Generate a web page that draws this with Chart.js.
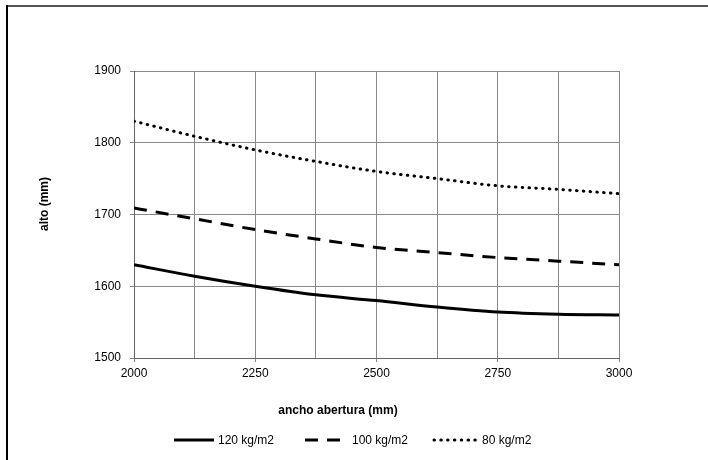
<!DOCTYPE html>
<html>
<head>
<meta charset="utf-8">
<script src="https://cdn.jsdelivr.net/npm/chart.js@4/dist/chart.umd.min.js"></script>
<style>
    html, body { margin: 0; padding: 0; background: #fff; }
    #wrap { width: 708px; height: 460px; position: relative; }
</style>
</head>
<body>
<div id="wrap"><canvas id="chart" width="708" height="460"></canvas></div>
<script>
// Données
const anchos = [2000, 2125, 2250, 2375, 2500, 2625, 2750, 2875, 3000];
const alto120 = [1630, 1614, 1600, 1588, 1580, 1571, 1564, 1561, 1560];
const alto100 = [1709, 1694, 1679, 1666, 1654, 1647, 1640, 1635, 1630];
const alto80 = [1830, 1809, 1790, 1774, 1760, 1750, 1740, 1735, 1729];
const xTicks = [2000, 2250, 2500, 2750, 3000];
const seriesLabels = ['120 kg/m2', '100 kg/m2', '80 kg/m2'];
const xTitle = 'ancho abertura (mm)';
const yTitle = 'alto (mm)';

const FONT = 'Liberation Sans, Arial, Helvetica, sans-serif';

// Styles de trait par série
const lineDashes = [[], [13, 9], [0.5, 6.3]];
const lineCaps = ['butt', 'butt', 'round'];

function toPoints(values) {
    return anchos.map((x, i) => ({ x: x, y: values[i] }));
}

// Cadre extérieur, titres des axes et légende
const framePlugin = {
    id: 'frame',
    beforeDraw(chart) {
        const c = chart.ctx;
        c.save();
        c.fillStyle = '#fff';
        c.fillRect(0, 0, chart.width, chart.height);
        c.lineWidth = 2;
        c.strokeStyle = '#555';
        c.beginPath();
        c.moveTo(6, 6);
        c.lineTo(chart.width, 6);
        c.stroke();
        c.strokeStyle = '#000';
        c.beginPath();
        c.moveTo(7, 5);
        c.lineTo(7, chart.height);
        c.stroke();
        c.restore();
    },
    afterDraw(chart) {
        const c = chart.ctx;
        c.save();
        c.fillStyle = '#000';
        c.font = 'bold 12px ' + FONT;
        c.textAlign = 'center';
        c.textBaseline = 'middle';
        c.fillText(xTitle, 338, 411);
        c.save();
        c.translate(45, 204);
        c.rotate(-Math.PI / 2);
        c.fillText(yTitle, 0, 0);
        c.restore();

        // Légende : échantillon de trait + libellé
        const legendY = 440;
        const sampleX = [174, 305, 434];
        const sampleW = [40, 35, 44];
        const textX = [218, 352, 482];
        c.font = '12px ' + FONT;
        c.textAlign = 'left';
        chart.data.datasets.forEach((ds, i) => {
            c.save();
            c.strokeStyle = '#000';
            c.lineWidth = 3;
            c.lineCap = lineCaps[i];
            c.setLineDash(lineDashes[i]);
            c.beginPath();
            c.moveTo(sampleX[i], legendY);
            c.lineTo(sampleX[i] + sampleW[i], legendY);
            c.stroke();
            c.restore();
            c.fillText(ds.label, textX[i], legendY + 1);
        });
        c.restore();
    }
};

const ctx = document.getElementById('chart');
new Chart(ctx, {
    type: 'line',
    data: {
        datasets: seriesLabels.map((label, i) => ({
            label: label,
            data: toPoints([alto120, alto100, alto80][i]),
            borderColor: '#000',
            borderWidth: 3,
            borderDash: lineDashes[i],
            borderCapStyle: lineCaps[i]
        }))
    },
    options: {
        responsive: false,
        animation: false,
        devicePixelRatio: 1,
        elements: {
            point: { radius: 0 },
            line: { tension: 0.4, cubicInterpolationMode: 'monotone', fill: false }
        },
        layout: {
            padding: { top: 71, right: 89, bottom: 36, left: 0 }
        },
        scales: {
            x: {
                type: 'linear',
                min: 2000,
                max: 3000,
                afterFit: (scale) => { scale.height = 66; },
                afterBuildTicks: (scale) => {
                    scale.ticks = anchos.map(v => ({ value: v }));
                },
                grid: {
                    color: '#888',
                    lineWidth: 1,
                    tickLength: 4,
                    tickColor: (c) => xTicks.includes(c.tick.value) ? '#888' : 'rgba(0,0,0,0)'
                },
                border: { color: '#666', width: 1 },
                ticks: {
                    autoSkip: false,
                    maxRotation: 0,
                    padding: 4,
                    color: '#000',
                    font: { family: FONT, size: 12 },
                    callback: (v) => xTicks.includes(v) ? String(v) : ''
                }
            },
            y: {
                min: 1500,
                max: 1900,
                afterFit: (scale) => { scale.width = 134; },
                grid: { color: '#888', lineWidth: 1, tickLength: 4 },
                border: { color: '#666', width: 1 },
                ticks: {
                    stepSize: 100,
                    padding: 9,
                    color: '#000',
                    font: { family: FONT, size: 12 },
                    callback: (v) => String(v)
                }
            }
        },
        plugins: {
            legend: { display: false },
            tooltip: { enabled: false }
        }
    },
    plugins: [framePlugin]
});
</script>
</body>
</html>
